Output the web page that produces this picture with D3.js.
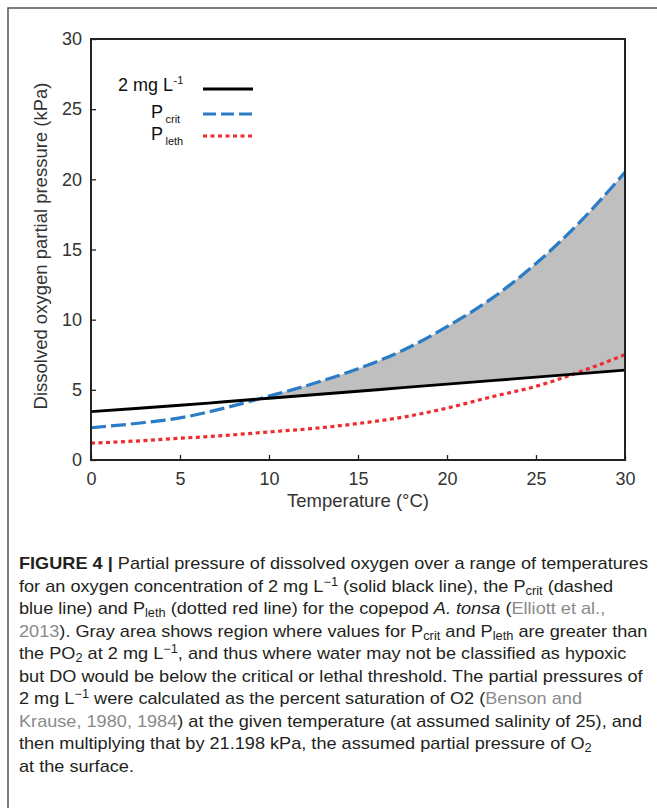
<!DOCTYPE html>
<html>
  <head>
    <script src="https://cdn.jsdelivr.net/npm/d3@7"></script>
    <style>
      body { margin: 0; background: #fff; }
      text { font-family: "Liberation Sans", Arial, sans-serif; }
    </style>
  </head>
  <body>
    <script>

    // Values (kPa vs temperature in °C)
    var temps   = [0, 2.5, 5, 7.5, 10, 12.5, 15, 17.5, 20, 22.5, 25, 27.5, 30];
    var po2_2mg = [3.45, 3.67, 3.9, 4.15, 4.4, 4.65, 4.9, 5.15, 5.4, 5.65, 5.9, 6.15, 6.4];
    var pcrit   = [2.3, 2.6, 3.0, 3.7, 4.55, 5.45, 6.5, 7.8, 9.5, 11.5, 14.0, 17.0, 20.5];
    var pleth   = [1.2, 1.35, 1.55, 1.75, 2.0, 2.25, 2.6, 3.05, 3.7, 4.5, 5.25, 6.3, 7.5];
    var xTicks  = [0, 5, 10, 15, 20, 25, 30];
    var yTicks  = [0, 5, 10, 15, 20, 25, 30];

    // Caption, one entry per line: [text, style]
    var caption = [
      [["FIGURE 4 | ", "b"], ["Partial pressure of dissolved oxygen over a range of temperatures", ""]],
      [["for an oxygen concentration of 2 mg L", ""], ["\u22121", "sup"], [" (solid black line), the P", ""], ["crit", "sub"], [" (dashed", ""]],
      [["blue line) and P", ""], ["leth", "sub"], [" (dotted red line) for the copepod ", ""], ["A. tonsa", "i"], [" (", ""], ["Elliott et al.,", "ref"]],
      [["2013", "ref"], ["). Gray area shows region where values for P", ""], ["crit", "sub"], [" and P", ""], ["leth", "sub"], [" are greater than", ""]],
      [["the PO", ""], ["2", "sub"], [" at 2 mg L", ""], ["\u22121", "sup"], [", and thus where water may not be classified as hypoxic", ""]],
      [["but DO would be below the critical or lethal threshold. The partial pressures of", ""]],
      [["2 mg L", ""], ["\u22121", "sup"], [" were calculated as the percent saturation of O2 (", ""], ["Benson and", "ref"]],
      [["Krause, 1980, 1984", "ref"], [") at the given temperature (at assumed salinity of 25), and", ""]],
      [["then multiplying that by 21.198 kPa, the assumed partial pressure of O", ""], ["2", "sub"]],
      [["at the surface.", ""]]
    ];

    var W = 657, H = 808;
    var margin = {top: 39, left: 91};
    var w = 534, h = 421;

    var svg = d3.select("body").append("svg")
      .attr("width", W)
      .attr("height", H);

    // Outer figure frame (runs off right and bottom)
    svg.append("path")
      .attr("d", "M8," + H + "V8H" + W)
      .attr("fill", "none")
      .attr("stroke", "#555")
      .attr("stroke-width", 1.5);

    var g = svg.append("g")
      .attr("transform", "translate(" + margin.left + "," + margin.top + ")");

    var x = d3.scaleLinear().domain([0, 30]).range([0, w]);
    var y = d3.scaleLinear().domain([0, 30]).range([h, 0]);

    var rows = temps.map(function(t, i) {
      return {t: t, black: po2_2mg[i], crit: pcrit[i], leth: pleth[i]};
    });

    var curve = d3.curveMonotoneX;

    // Gray region: above the black line and below the Pcrit curve
    g.append("clipPath").attr("id", "underCrit")
      .append("path")
      .attr("d", d3.area().curve(curve)
        .x(function(d) { return x(d.t); })
        .y0(h)
        .y1(function(d) { return y(d.crit); })(rows));

    g.append("path")
      .attr("clip-path", "url(#underCrit)")
      .attr("fill", "#bfbfbf")
      .attr("d", d3.area().curve(curve)
        .x(function(d) { return x(d.t); })
        .y0(function(d) { return y(d.black); })
        .y1(0)(rows));

    function line(key) {
      return d3.line().curve(curve)
        .x(function(d) { return x(d.t); })
        .y(function(d) { return y(d[key]); });
    }

    var series = [
      {key: "leth",  color: "#ee2b2e", width: 3.2, dash: "4,3.5"},
      {key: "crit",  color: "#2a7cc6", width: 3.2, dash: "15,5"},
      {key: "black", color: "#000",    width: 2.8, dash: null}
    ];

    series.forEach(function(s) {
      g.append("path")
        .datum(rows)
        .attr("fill", "none")
        .attr("stroke", s.color)
        .attr("stroke-width", s.width)
        .attr("stroke-dasharray", s.dash)
        .attr("d", line(s.key));
    });

    // Axes with inward ticks
    var yAxis = g.append("g")
      .call(d3.axisLeft(y).tickValues(yTicks).tickSizeInner(-5).tickSizeOuter(0).tickPadding(9));
    var xAxis = g.append("g")
      .attr("transform", "translate(0," + h + ")")
      .call(d3.axisBottom(x).tickValues(xTicks).tickSizeInner(-5).tickSizeOuter(0).tickPadding(12));

    [xAxis, yAxis].forEach(function(a) {
      a.select(".domain").remove();
      a.selectAll("line").attr("stroke", "#222").attr("stroke-width", 1.3);
      a.selectAll("text")
        .attr("font-size", 18)
        .attr("fill", "#333")
        .style("font-family", "'Liberation Sans', Arial, sans-serif");
    });

    // Plot frame
    g.append("rect")
      .attr("width", w)
      .attr("height", h)
      .attr("fill", "none")
      .attr("stroke", "#222")
      .attr("stroke-width", 2);

    // Axis titles
    svg.append("text")
      .attr("x", margin.left + w / 2)
      .attr("y", 507)
      .attr("text-anchor", "middle")
      .attr("font-size", 18.5)
      .attr("fill", "#333")
      .text("Temperature (\u00b0C)");

    svg.append("text")
      .attr("transform", "translate(47,246)rotate(-90)")
      .attr("text-anchor", "middle")
      .attr("font-size", 18.5)
      .attr("fill", "#333")
      .text("Dissolved oxygen partial pressure (kPa)");

    // Legend
    var legend = [
      {label: "2 mg L", extra: "-1", kind: "sup", color: "#000",    width: 3,   dash: null,    y: 89},
      {label: "P",      extra: "crit", kind: "sub", color: "#2a7cc6", width: 3.2, dash: "13,5",  y: 114},
      {label: "P",      extra: "leth", kind: "sub", color: "#ee2b2e", width: 3.2, dash: "4,3.5", y: 136}
    ];

    legend.forEach(function(d) {
      svg.append("text")
        .attr("x", d.kind === "sup" ? 173 : 163)
        .attr("y", d.kind === "sup" ? d.y + 2 : d.y + 4)
        .attr("text-anchor", "end")
        .attr("font-size", 18)
        .attr("fill", "#111")
        .text(d.label);
      svg.append("text")
        .attr("x", d.kind === "sup" ? 173.5 : 165.5)
        .attr("y", d.kind === "sup" ? d.y - 5 : d.y + 9)
        .attr("font-size", 11)
        .attr("fill", "#111")
        .text(d.extra);
      svg.append("line")
        .attr("x1", 203).attr("x2", 253)
        .attr("y1", d.y).attr("y2", d.y)
        .attr("stroke", d.color)
        .attr("stroke-width", d.width)
        .attr("stroke-dasharray", d.dash);
    });

    // Caption: same horizontal squeeze on every line, set so line 1 ends at 648
    var cap = svg.append("g");
    var capLines = [];
    caption.forEach(function(parts, i) {
      var t = cap.append("text")
        .attr("x", 19)
        .attr("y", 569 + i * 22.55)
        .attr("font-size", 17)
        .attr("fill", "#231f20");
      parts.forEach(function(p) {
        var s = t.append("tspan").text(p[0]);
        if (p[1] === "b") s.attr("font-weight", "bold");
        if (p[1] === "i") s.attr("font-style", "italic");
        if (p[1] === "ref") s.attr("fill", "#8a8a8a");
        if (p[1] === "sub") s.attr("font-size", 12).attr("baseline-shift", "-3");
        if (p[1] === "sup") s.attr("font-size", 12).attr("baseline-shift", "6");
      });
      capLines.push(t);
    });
    var ratio = (648 - 19) / capLines[0].node().getComputedTextLength();
    capLines.forEach(function(t) {
      var len = t.node().getComputedTextLength();
      t.attr("textLength", len * ratio).attr("lengthAdjust", "spacingAndGlyphs");
    });
    </script>
  </body>
</html>
